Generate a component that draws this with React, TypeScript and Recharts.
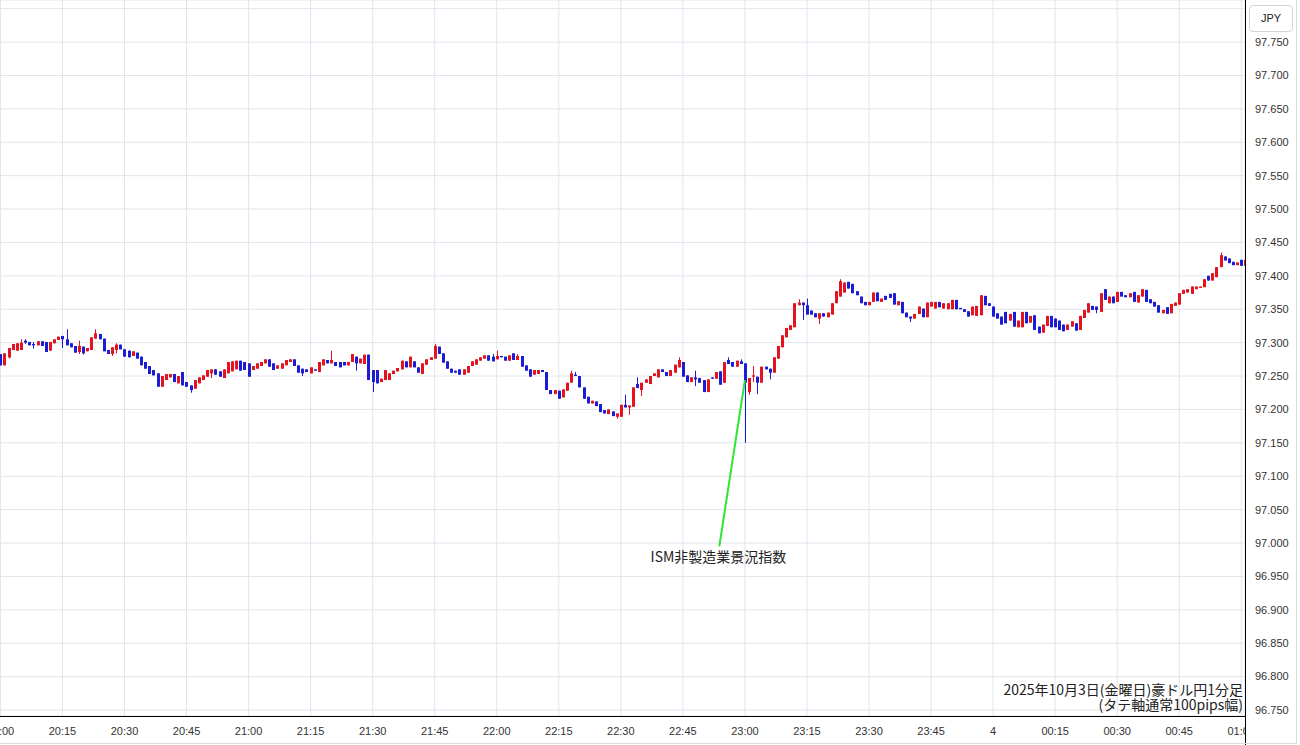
import { ComposedChart, Bar, XAxis, YAxis, CartesianGrid, ReferenceLine, ReferenceDot } from "recharts";

// AUD/JPY 1-minute candles, 20:00 -> 01:00 (index = minutes after 20:00)
const OPEN = [
  97.283, 97.266, 97.278, 97.289, 97.288, 97.289, 97.303, 97.301, 97.298, 97.296,
  97.302, 97.301, 97.288, 97.299, 97.304, 97.310, 97.305, 97.299, 97.295, 97.286,
  97.294, 97.287, 97.289, 97.306, 97.313, 97.306, 97.289, 97.283, 97.289, 97.297,
  97.290, 97.288, 97.280, 97.285, 97.279, 97.271, 97.265, 97.259, 97.254, 97.234,
  97.244, 97.248, 97.253, 97.239, 97.256, 97.241, 97.236, 97.231, 97.239, 97.244,
  97.249, 97.254, 97.260, 97.257, 97.247, 97.254, 97.257, 97.260, 97.273, 97.271,
  97.269, 97.259, 97.261, 97.265, 97.269, 97.275, 97.269, 97.261, 97.261, 97.266,
  97.271, 97.275, 97.266, 97.261, 97.260, 97.254, 97.260, 97.256, 97.266, 97.274,
  97.269, 97.271, 97.271, 97.271, 97.266, 97.271, 97.279, 97.269, 97.268, 97.282,
  97.259, 97.259, 97.241, 97.244, 97.244, 97.253, 97.257, 97.260, 97.272, 97.263,
  97.272, 97.263, 97.253, 97.267, 97.274, 97.276, 97.294, 97.284, 97.272, 97.261,
  97.258, 97.260, 97.252, 97.255, 97.265, 97.267, 97.273, 97.276, 97.281, 97.279,
  97.275, 97.280, 97.279, 97.273, 97.284, 97.274, 97.280, 97.266, 97.260, 97.252,
  97.253, 97.259, 97.256, 97.229, 97.223, 97.228, 97.218, 97.228, 97.240, 97.252,
  97.250, 97.233, 97.219, 97.209, 97.212, 97.208, 97.199, 97.193, 97.197, 97.189,
  97.189, 97.207, 97.203, 97.204, 97.238, 97.229, 97.240, 97.238, 97.250, 97.248,
  97.260, 97.256, 97.250, 97.255, 97.263, 97.271, 97.251, 97.241, 97.248, 97.247,
  97.244, 97.226, 97.248, 97.246, 97.257, 97.240, 97.274, 97.271, 97.264, 97.272,
  97.269, 97.226, 97.249, 97.249, 97.240, 97.264, 97.261, 97.255, 97.276, 97.293,
  97.308, 97.319, 97.323, 97.356, 97.360, 97.356, 97.348, 97.344, 97.336, 97.344,
  97.338, 97.342, 97.359, 97.369, 97.375, 97.391, 97.388, 97.377, 97.369, 97.361,
  97.356, 97.361, 97.375, 97.361, 97.370, 97.373, 97.374, 97.356, 97.361, 97.345,
  97.339, 97.336, 97.343, 97.351, 97.338, 97.354, 97.351, 97.361, 97.351, 97.350,
  97.350, 97.364, 97.352, 97.350, 97.347, 97.341, 97.340, 97.341, 97.370, 97.359,
  97.354, 97.344, 97.339, 97.346, 97.333, 97.346, 97.323, 97.323, 97.346, 97.330,
  97.341, 97.324, 97.315, 97.325, 97.340, 97.336, 97.333, 97.327, 97.319, 97.324,
  97.329, 97.319, 97.337, 97.345, 97.355, 97.354, 97.346, 97.380, 97.359, 97.369,
  97.361, 97.376, 97.371, 97.368, 97.376, 97.360, 97.369, 97.379, 97.365, 97.361,
  97.356, 97.344, 97.353, 97.344, 97.355, 97.357, 97.373, 97.375, 97.373, 97.380,
  97.382, 97.383, 97.400, 97.393, 97.398, 97.413, 97.429, 97.426, 97.421, 97.416,
  97.424, 97.415,
];

const CLOSE = [
  97.266, 97.284, 97.292, 97.298, 97.299, 97.300, 97.300, 97.296, 97.296, 97.302,
  97.295, 97.286, 97.301, 97.305, 97.309, 97.305, 97.296, 97.293, 97.285, 97.295,
  97.284, 97.292, 97.308, 97.314, 97.305, 97.287, 97.283, 97.293, 97.297, 97.290,
  97.279, 97.278, 97.287, 97.276, 97.266, 97.261, 97.253, 97.251, 97.234, 97.250,
  97.253, 97.253, 97.241, 97.250, 97.236, 97.234, 97.229, 97.244, 97.248, 97.251,
  97.259, 97.260, 97.252, 97.249, 97.260, 97.271, 97.272, 97.273, 97.258, 97.259,
  97.249, 97.265, 97.269, 97.271, 97.275, 97.264, 97.259, 97.266, 97.269, 97.274,
  97.275, 97.265, 97.255, 97.254, 97.256, 97.263, 97.258, 97.271, 97.275, 97.269,
  97.274, 97.265, 97.263, 97.266, 97.271, 97.283, 97.269, 97.276, 97.282, 97.244,
  97.241, 97.239, 97.246, 97.259, 97.254, 97.258, 97.262, 97.273, 97.263, 97.279,
  97.263, 97.255, 97.269, 97.275, 97.278, 97.295, 97.283, 97.270, 97.261, 97.255,
  97.255, 97.252, 97.260, 97.265, 97.272, 97.275, 97.278, 97.281, 97.273, 97.272,
  97.280, 97.278, 97.273, 97.281, 97.274, 97.280, 97.264, 97.258, 97.249, 97.259,
  97.259, 97.256, 97.229, 97.223, 97.229, 97.216, 97.230, 97.240, 97.254, 97.250,
  97.233, 97.216, 97.209, 97.213, 97.205, 97.196, 97.194, 97.200, 97.190, 97.194,
  97.207, 97.203, 97.206, 97.233, 97.232, 97.240, 97.245, 97.250, 97.254, 97.260,
  97.256, 97.250, 97.259, 97.267, 97.274, 97.249, 97.241, 97.248, 97.245, 97.240,
  97.226, 97.245, 97.246, 97.256, 97.237, 97.271, 97.268, 97.264, 97.273, 97.268,
  97.240, 97.247, 97.251, 97.240, 97.264, 97.260, 97.255, 97.278, 97.295, 97.311,
  97.322, 97.326, 97.359, 97.360, 97.356, 97.342, 97.342, 97.338, 97.344, 97.339,
  97.345, 97.359, 97.377, 97.392, 97.390, 97.381, 97.374, 97.371, 97.359, 97.356,
  97.361, 97.375, 97.362, 97.366, 97.364, 97.367, 97.357, 97.362, 97.344, 97.338,
  97.336, 97.343, 97.354, 97.338, 97.360, 97.361, 97.361, 97.353, 97.359, 97.359,
  97.364, 97.350, 97.350, 97.346, 97.339, 97.354, 97.355, 97.371, 97.356, 97.355,
  97.339, 97.336, 97.327, 97.329, 97.343, 97.324, 97.333, 97.346, 97.329, 97.340,
  97.319, 97.314, 97.327, 97.340, 97.323, 97.323, 97.319, 97.317, 97.327, 97.332,
  97.318, 97.340, 97.349, 97.359, 97.349, 97.349, 97.374, 97.364, 97.369, 97.359,
  97.376, 97.369, 97.368, 97.374, 97.361, 97.371, 97.380, 97.361, 97.359, 97.354,
  97.345, 97.349, 97.343, 97.358, 97.360, 97.374, 97.379, 97.380, 97.384, 97.384,
  97.384, 97.395, 97.393, 97.404, 97.413, 97.431, 97.423, 97.419, 97.416, 97.420,
  97.415, 97.424,
];

// visible wicks beyond the body: minute -> [high, low]
const WICKS: Record<number, [number | null, number | null]> = {
  2: [null, 97.276], 5: [97.305, null], 6: [97.305, 97.298], 8: [97.301, 97.291],
  15: [null, 97.292], 16: [97.32, null], 19: [97.303, 97.283], 20: [null, 97.282],
  23: [97.32, null], 27: [null, 97.28], 28: [97.299, 97.284], 46: [null, 97.225],
  51: [null, 97.247], 73: [null, 97.25], 80: [97.288, null], 86: [null, 97.258],
  90: [null, 97.226], 105: [97.298, null], 119: [97.283, null], 120: [97.288, null],
  125: [97.283, null], 138: [97.258, null], 139: [97.256, null], 149: [null, 97.186],
  151: [97.222, null], 152: [null, 97.192], 154: [97.248, null], 155: [null, 97.22],
  164: [97.278, null], 168: [97.258, 97.235], 176: [97.278, null], 179: [97.275, null],
  180: [null, 97.15], 181: [null, 97.222], 182: [97.265, 97.241], 183: [null, 97.223],
  186: [null, 97.245], 193: [97.365, null], 194: [null, 97.334], 195: [97.366, null],
  198: [null, 97.328], 203: [97.395, null], 220: [null, 97.331], 265: [null, 97.344],
  295: [97.435, null],
};

const X_TICKS = [0, 15, 30, 45, 60, 75, 90, 105, 120, 135, 150, 165, 180, 195, 210, 225, 240, 255, 270, 285, 300];
const TIME_LABELS = [
  "20:00", "20:15", "20:30", "20:45", "21:00", "21:15", "21:30", "21:45", "22:00", "22:15", "22:30",
  "22:45", "23:00", "23:15", "23:30", "23:45", "4", "00:15", "00:30", "00:45", "01:00",
];
const Y_TICKS = [
  96.75, 96.8, 96.85, 96.9, 96.95, 97.0, 97.05, 97.1, 97.15, 97.2, 97.25,
  97.3, 97.35, 97.4, 97.45, 97.5, 97.55, 97.6, 97.65, 97.7, 97.75, 97.8,
];

const EVENT_LABEL = "ISM非製造業景況指数";
const TITLE_LINE_1 = "2025年10月3日(金曜日)豪ドル円1分足";
const TITLE_LINE_2 = "(タテ軸通常100pips幅)";

const UP = "#e3141f";
const DOWN = "#1c1cd4";

const data = OPEN.map((o, i) => {
  const c = CLOSE[i];
  const w = WICKS[i] || [null, null];
  const h = Math.max(o, c, w[0] ?? -Infinity);
  const l = Math.min(o, c, w[1] ?? Infinity);
  return { t: i, o, c, h, l, range: [l, h] };
});

function Candle(props: any) {
  const { x, y, width, height, payload } = props;
  if (x == null || y == null || !payload) return null;
  const top = Math.min(y, y + height);
  const bottom = Math.max(y, y + height);
  const { o, c, h, l } = payload;
  const span = h - l || 1;
  const toPx = (v: number) => top + ((h - v) / span) * (bottom - top);
  const cx = Math.floor(x + width / 2);
  const bodyTop = toPx(Math.max(o, c));
  const bodyBottom = toPx(Math.min(o, c));
  const color = c >= o ? UP : DOWN;
  return (
    <g>
      <line x1={cx + 0.5} x2={cx + 0.5} y1={top} y2={bottom} stroke={color} strokeWidth={1} />
      <rect x={cx - 1} y={bodyTop} width={3} height={Math.max(1, bodyBottom - bodyTop)} fill={color} />
    </g>
  );
}

function TimeTick(props: any) {
  const { x, payload, index } = props;
  const label = TIME_LABELS[Math.round(payload.value / 15)];
  const id = `xclip-${index}`;
  return (
    <g>
      <defs>
        <clipPath id={id}>
          <rect x={0} y={716} width={1245} height={29} />
        </clipPath>
      </defs>
      <text x={x} y={735} textAnchor="middle" fontSize={11} fill="#333" clipPath={`url(#${id})`}>
        {label}
      </text>
    </g>
  );
}

export default function App() {
  return (
    <div
      style={{
        position: "absolute",
        left: 0,
        top: 0,
        width: 1300,
        height: 745,
        background: "#fff",
        fontFamily: "'Liberation Sans', Arial, 'Noto Sans CJK JP', sans-serif",
      }}
    >
      <ComposedChart width={1300} height={745} data={data} margin={{ top: 0, right: 0, bottom: 0, left: 0 }}>
        <CartesianGrid stroke="#dfe5ec" />
        <XAxis
          dataKey="t"
          type="number"
          domain={[-0.1, 300.9]}
          ticks={X_TICKS}
          interval={0}
          allowDataOverflow
          axisLine={false}
          tickLine={false}
          height={29}
          tick={<TimeTick />}
        />
        <YAxis
          orientation="right"
          type="number"
          domain={[96.741, 97.813]}
          ticks={Y_TICKS}
          interval={0}
          allowDataOverflow
          width={55}
          axisLine={false}
          tickLine={false}
          tickMargin={4}
          tick={{ fontSize: 11, fill: "#333" }}
          tickFormatter={(v: number) => (v > 97.79 ? "" : v.toFixed(3))}
        />
        <Bar dataKey="range" barSize={3} shape={(p: any) => <Candle {...p} />} isAnimationActive={false} />
        <ReferenceLine
          segment={[
            { x: 180, y: 97.244 },
            { x: 173.8, y: 96.995 },
          ]}
          stroke="#2ee62e"
          strokeWidth={2}
        />
        <ReferenceDot
          x={173.6}
          y={96.979}
          r={0}
          fill="none"
          stroke="none"
          label={{
            value: EVENT_LABEL,
            position: "center",
            fill: "#222",
            fontSize: 14,
            fontFamily: "'Noto Sans CJK JP', sans-serif",
          }}
        />
      </ComposedChart>

      {/* axis frame */}
      <div style={{ position: "absolute", left: 0, top: 716, width: 1245, height: 1, background: "#000" }} />
      <div style={{ position: "absolute", left: 1245, top: 0, width: 1, height: 745, background: "#000" }} />
      <div
        style={{
          position: "absolute",
          left: 0,
          top: 0,
          width: 1297,
          height: 744,
          boxSizing: "border-box",
          borderRight: "1px solid #dcdcdc",
          borderBottom: "1px solid #dcdcdc",
          pointerEvents: "none",
        }}
      />

      <div
        style={{
          position: "absolute",
          left: 1249,
          top: 5,
          width: 44,
          height: 27,
          boxSizing: "border-box",
          border: "1px solid #d4d4d4",
          borderRadius: 4,
          background: "#fff",
          fontSize: 11,
          lineHeight: "25px",
          textAlign: "center",
          color: "#222",
        }}
      >
        JPY
      </div>

      <div
        style={{
          position: "absolute",
          right: 57,
          top: 682,
          fontSize: 14,
          lineHeight: "15px",
          textAlign: "right",
          color: "#222",
          fontFamily: "'Noto Sans CJK JP', sans-serif",
          whiteSpace: "nowrap",
        }}
      >
        <div>{TITLE_LINE_1}</div>
        <div>{TITLE_LINE_2}</div>
      </div>
    </div>
  );
}
